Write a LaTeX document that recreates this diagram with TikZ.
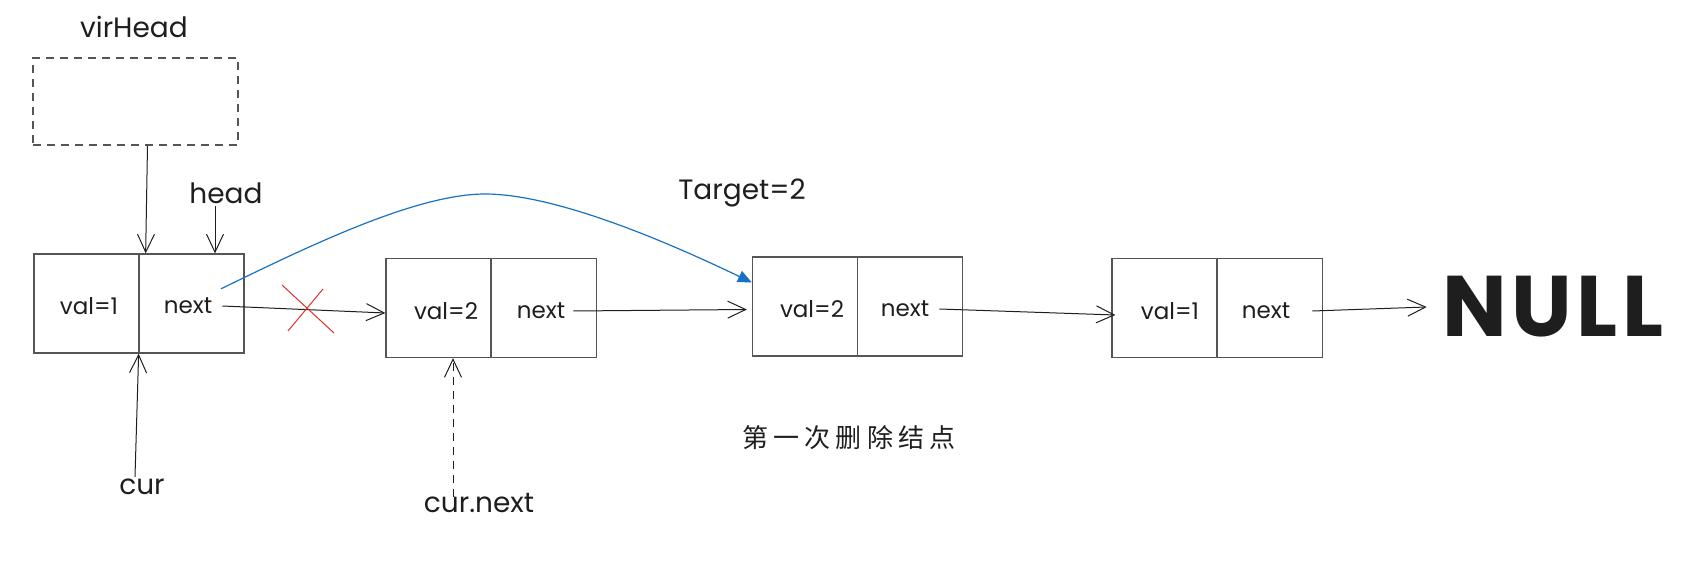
\documentclass[tikz,border=0pt]{standalone}
\usepackage{fontspec}
\setmainfont{Poppins}
\newfontfamily\cjk[LetterSpace=20]{Noto Sans CJK SC}
\usetikzlibrary{arrows.meta,calc}
\definecolor{ink}{HTML}{1E1E1E}
\definecolor{boxline}{HTML}{555555}
\definecolor{exblue}{HTML}{1971C2}
\definecolor{exred}{HTML}{E03131}
\tikzset{
  cell/.style={draw=boxline,line width=1.3pt,minimum width=105pt,minimum height=99pt,inner sep=0pt},
  celltxt/.style={text=ink,font=\fontsize{23}{27}\selectfont,inner sep=2pt},
  lbl/.style={text=ink,font=\fontsize{28}{32}\selectfont,inner sep=2pt},
  ptr/.style={draw=ink,line width=1pt,-{Straight Barb[length=18pt,width=17pt,line width=1pt]}},
  bluearrow/.style={draw=exblue,line width=1.2pt,-{Triangle[length=14pt,width=12pt]}},
  xline/.style={draw=exred,line width=1pt}
}
\begin{document}
\begin{tikzpicture}[x=1pt,y=-1pt]
\useasboundingbox (0,0) rectangle (1707,577);
% virtual head
\node[draw=boxline,line width=1.3pt,dashed,dash pattern=on 8pt off 6pt,minimum width=205pt,minimum height=87pt,inner sep=0pt] (vir) at (135.5,101.5) {};
\node[lbl] (virlbl) at (134,27) {virHead};
% list nodes
\node[cell] (c1a) at (86.5,303.5) {};
\node[cell] (c1b) at (191.5,303.5) {};
\node[cell] (c2a) at (438.5,308) {};
\node[cell] (c2b) at (544,308) {};
\node[cell] (c3a) at (805,306.5) {};
\node[cell] (c3b) at (910,306.5) {};
\node[cell] (c4a) at (1164.5,308) {};
\node[cell] (c4b) at (1270,308) {};
% cell texts
\node[celltxt] (v1) at (89,306) {val=1};
\node[celltxt] (n1) at (188,306) {next};
\node[celltxt] (v2) at (446,311) {val=2};
\node[celltxt] (n2) at (541,311) {next};
\node[celltxt] (v3) at (812,309) {val=2};
\node[celltxt] (n3) at (905,309) {next};
\node[celltxt] (v4) at (1170,311) {val=1};
\node[celltxt] (n4) at (1266,311) {next};
% NULL
\node[text=ink,font=\fontsize{86}{88}\selectfont\bfseries\addfontfeature{LetterSpace=5},inner sep=0pt] (null) at (1553,307) {NULL};
% labels
\node[lbl] (head) at (226,193) {head};
\node[lbl] (target) at (742,193) {Target=2};
\node[lbl] (cur) at (142,487) {cur};
\node[lbl] (curnext) at (479,503) {cur.next};
\node[text=ink,font=\cjk\fontsize{26}{29}\selectfont,inner sep=0pt] (title) at (849,438) {第一次删除结点};
% connectors
\draw[ptr] ([xshift=8pt]n1.east) -- ([yshift=-5pt]c2a.west);
\draw[ptr] ([xshift=6pt]n2.east) -- ([xshift=-5pt,yshift=-3pt]c3a.west);
\draw[ptr] ([xshift=8pt]n3.east) -- ([xshift=4pt,yshift=-7pt]c4a.west);
\draw[ptr] ([xshift=20pt]n4.east) -- ([xshift=-16pt]null.west);
\draw[ptr] ([xshift=12pt]vir.south) -- ([xshift=6pt]c1a.north east);
\coordinate (headbot) at ([xshift=-11pt]head.south);
\draw[ptr] (headbot) -- (headbot |- c1b.north);
\coordinate (curtop) at ([xshift=-7pt]cur.north);
\draw[ptr] (curtop) -- ([xshift=-1pt]c1a.south east);
\coordinate (cnstart) at ([xshift=-26pt,yshift=-6pt]curnext.north);
\draw[ptr,dashed,dash pattern=on 8pt off 6pt] (cnstart) -- (cnstart |- c2a.south);
% bypass link
\coordinate (bstart) at ([xshift=33pt,yshift=7pt]n1.north);
\coordinate (bpeak) at (485,194);
\draw[bluearrow] (bstart) .. controls (305,248) and (415,194) .. (bpeak)
  .. controls (560,194) and (680,248) .. ([yshift=24pt]c3a.west);
% red cross
\coordinate (xa) at (282,285);
\coordinate (xb) at (334,333);
\coordinate (xc) at (323,289);
\coordinate (xd) at (288,331);
\draw[xline] (xa) -- (xb);
\draw[xline] (xc) -- (xd);
\end{tikzpicture}
\end{document}
